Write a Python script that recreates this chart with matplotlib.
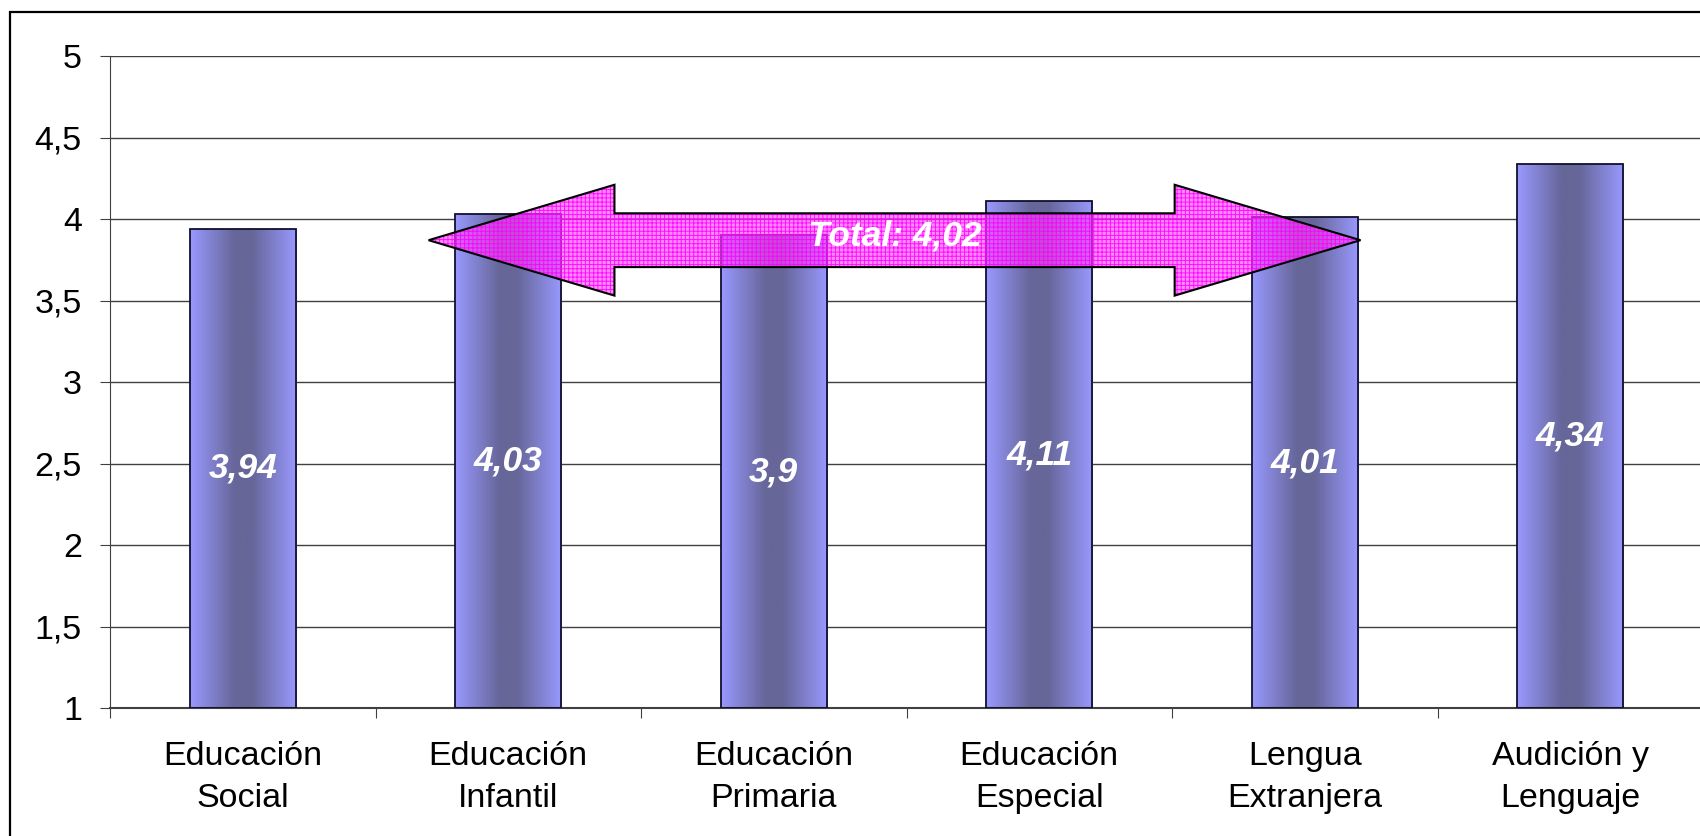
# Puntuación media por titulación, con flecha del total
import numpy as np
import matplotlib.pyplot as plt
from matplotlib.colors import LinearSegmentedColormap
from matplotlib.patches import Polygon, Rectangle

plt.rcParams['font.family'] = ['Liberation Sans', 'DejaVu Sans']
plt.rcParams['hatch.linewidth'] = 0.7

titulaciones = ['Educación\nSocial', 'Educación\nInfantil', 'Educación\nPrimaria',
                'Educación\nEspecial', 'Lengua\nExtranjera', 'Audición y\nLenguaje']
medias = [3.94, 4.03, 3.9, 4.11, 4.01, 4.34]
total = 4.02
yticks = [1, 1.5, 2, 2.5, 3, 3.5, 4, 4.5, 5]

fig = plt.figure(figsize=(17, 8.36), dpi=100)
ax = fig.add_axes([110 / 1700, 1 - 708 / 836, 1593 / 1700, 652 / 836])

x = np.arange(len(medias))
width = 0.4
cmap = LinearSegmentedColormap.from_list(
    'barra', [(0, '#9999FF'), (0.42, '#666699'), (0.58, '#666699'), (1, '#9999FF')])
grad = np.linspace(0, 1, 256).reshape(1, -1)

bars = ax.bar(x, np.array(medias) - 1, width, bottom=1, facecolor='none',
              edgecolor='#101030', linewidth=1.3, zorder=3)
for b, v in zip(bars, medias):
    im = ax.imshow(grad, cmap=cmap, aspect='auto', zorder=2,
                   extent=[b.get_x(), b.get_x() + b.get_width(), 1, v])
    im.set_clip_path(b)
    ax.text(b.get_x() + b.get_width() / 2, (1 + v) / 2, str(v).replace('.', ','),
            color='white', fontsize=25.5, fontweight='bold', fontstyle='italic',
            ha='center', va='center', zorder=6)

# flecha doble del total
cx, cy = 2.455, 3.87
half_len, head_len = 1.755, 0.70
shaft_h, head_h = 0.165, 0.34
pts = [(cx - half_len, cy), (cx - half_len + head_len, cy + head_h),
       (cx - half_len + head_len, cy + shaft_h), (cx + half_len - head_len, cy + shaft_h),
       (cx + half_len - head_len, cy + head_h), (cx + half_len, cy),
       (cx + half_len - head_len, cy - head_h), (cx + half_len - head_len, cy - shaft_h),
       (cx - half_len + head_len, cy - shaft_h), (cx - half_len + head_len, cy - head_h)]
ax.add_patch(Polygon(pts, closed=True, facecolor='#FF40FF', alpha=0.6,
                     edgecolor='none', zorder=4))
ax.add_patch(Polygon(pts, closed=True, facecolor='none', edgecolor='#FF00FF',
                     hatch='++++', linewidth=0, alpha=0.9, zorder=4))
ax.add_patch(Polygon(pts, closed=True, facecolor='none', edgecolor='black',
                     linewidth=1.5, zorder=5))
ax.text(cx, 3.895, 'Total: ' + str(total).replace('.', ','), color='white',
        fontsize=25.5, fontweight='bold', fontstyle='italic',
        ha='center', va='center', zorder=6)

ax.set_xlim(-0.5, len(medias) - 0.5)
ax.set_ylim(1, 5)
ax.set_yticks(yticks)
ax.set_yticklabels([('%g' % t).replace('.', ',') for t in yticks])
ax.yaxis.grid(True, color='#404040', linewidth=1.0)
ax.set_axisbelow(True)
ax.set_xticks(np.arange(-0.5, len(medias)))
ax.set_xticklabels([])
ax.set_xticks(x, minor=True)
ax.set_xticklabels(titulaciones, minor=True, linespacing=1.45)
ax.tick_params(axis='x', which='minor', length=0, pad=24, labelsize=24.5)
ax.tick_params(axis='x', which='major', length=10 * 0.72, color='#404040')
ax.tick_params(axis='y', length=10 * 0.72, pad=13, labelsize=24.5, color='#404040')
for s in ['top', 'right']:
    ax.spines[s].set_visible(False)
ax.spines['left'].set_color('#404040')
ax.spines['bottom'].set_color('#404040')
ax.spines['bottom'].set_linewidth(1.5)

# marco exterior
fig.patches.append(Rectangle((10 / 1700, -0.1), 1.2, 1.1 - 12 / 836, transform=fig.transFigure,
                             facecolor='none', edgecolor='black', linewidth=1.6))

fig.savefig('out.png', dpi=100, facecolor='white')
